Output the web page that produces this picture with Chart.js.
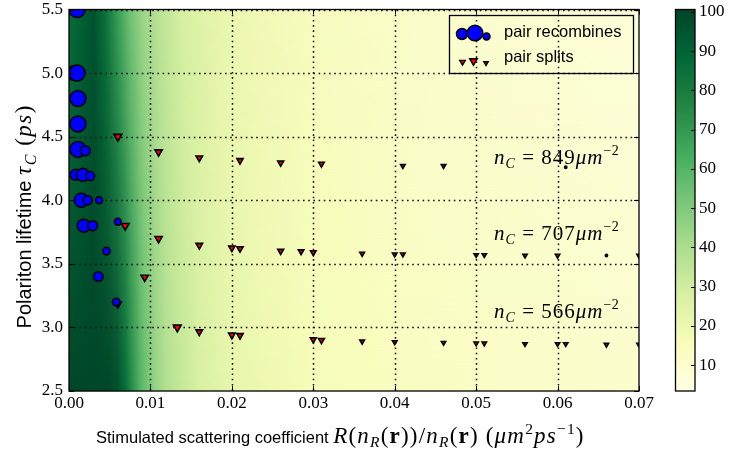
<!DOCTYPE html>
<html>
<head>
<meta charset="utf-8">
<script src="https://cdn.jsdelivr.net/npm/chart.js@4.4.0/dist/chart.umd.min.js"></script>
<style>
  html, body { margin: 0; padding: 0; background: #fff; }
  #wrap { position: relative; width: 730px; height: 451px; }
</style>
</head>
<body>
<div id="wrap"><canvas id="chart" width="730" height="451"></canvas></div>
<script>
// ---- tick labels ----
const xTicks = [0, 0.01, 0.02, 0.03, 0.04, 0.05, 0.06, 0.07];
const yTicks = [2.5, 3.0, 3.5, 4.0, 4.5, 5.0, 5.5];
const cbTicks = [10, 20, 30, 40, 50, 60, 70, 80, 90, 100];
const cbRange = [3.4, 100.6];

// ---- pair recombines (blue circles) ----
const recombX = [0.001, 0.0007, 0.001, 0.0011, 0.0011, 0.0011, 0.002, 0.0008, 0.0017, 0.0026,
                 0.0015, 0.0023, 0.0037, 0.0018, 0.0029, 0.006, 0.0046, 0.0036, 0.0058, 0.061, 0.066];
const recombY = [5.5, 5.0, 5.0, 4.8, 4.6, 4.4, 4.39, 4.2, 4.2, 4.19,
                 4.0, 4.0, 4.0, 3.8, 3.8, 3.83, 3.6, 3.4, 3.2, 4.26, 3.565];
const recombSize = [8, 7.5, 8, 8, 8, 8, 5, 5.5, 6.5, 4.5,
                    7, 4.5, 3.5, 6.5, 5, 3.5, 3.8, 4.8, 3.8, 1.2, 1.2];

// ---- pair splits (red triangles) ----
const splitX = [0.006, 0.011, 0.016, 0.021, 0.026, 0.031, 0.041, 0.046,
                0.0069, 0.011, 0.016, 0.020, 0.021, 0.026, 0.0285, 0.030, 0.036, 0.040, 0.041,
                0.050, 0.051, 0.056, 0.060, 0.070, 0.0093, 0.006,
                0.0133, 0.016, 0.020, 0.021, 0.030, 0.031, 0.036, 0.040, 0.046, 0.050, 0.051,
                0.056, 0.060, 0.061, 0.066, 0.070];
const splitY = [4.5, 4.38, 4.333, 4.313, 4.294, 4.286, 4.27, 4.27,
                3.8, 3.698, 3.646, 3.625, 3.62, 3.60, 3.597, 3.59, 3.58, 3.575, 3.575,
                3.57, 3.57, 3.566, 3.565, 3.565, 3.394, 3.184,
                3.0, 2.966, 2.94, 2.937, 2.905, 2.90, 2.89, 2.885, 2.88, 2.875, 2.875,
                2.87, 2.87, 2.87, 2.865, 2.865];
const splitSize = [4.5, 4.2, 3.8, 3.6, 3.4, 3.2, 2.6, 2.6,
                   4.5, 4.2, 3.8, 3.6, 3.6, 3.4, 3.2, 3.2, 2.7, 2.6, 2.6,
                   2.5, 2.5, 2.5, 2.5, 2.5, 4.2, 4,
                   4.5, 3.8, 3.8, 3.6, 3.4, 3.4, 2.7, 2.6, 2.5, 2.5, 2.5,
                   2.5, 2.5, 2.5, 2.5, 2.5];

// ---- background field (value along x at top and bottom of the axes) ----
const heatTopX = [0, 0.0013, 0.003, 0.0045, 0.006, 0.0075, 0.009, 0.011, 0.014, 0.02, 0.03, 0.045, 0.07];
const heatTop  = [86, 90, 96, 84, 68, 54, 44, 36, 28, 20, 14, 10, 7];
const heatBotX = [0, 0.005, 0.006, 0.007, 0.008, 0.009, 0.0105, 0.012, 0.016, 0.02, 0.03, 0.045, 0.07];
const heatBot  = [100, 100, 96, 85, 70, 58, 46, 38, 28, 22, 16, 13, 10];

// ---- annotations ----
const noteText = ['849', '707', '566'];
const noteX = [0.0522, 0.0522, 0.0522];
const noteY = [4.282, 3.685, 3.075];

const ylgn = ['#ffffe5', '#f7fcb9', '#d9f0a3', '#addd8e', '#78c679', '#41ab5d', '#238443', '#006837', '#004529'];
const SANS = '"Liberation Sans", Arial, sans-serif';
const SERIF = '"Liberation Serif", "Times New Roman", serif';

function hexRgb(h) {
  return [parseInt(h.slice(1, 3), 16), parseInt(h.slice(3, 5), 16), parseInt(h.slice(5, 7), 16)];
}
function cmap(v) {
  let t = (v - cbRange[0]) / (cbRange[1] - cbRange[0]);
  t = Math.max(0, Math.min(1, t)) * (ylgn.length - 1);
  const i = Math.min(Math.floor(t), ylgn.length - 2);
  const f = t - i;
  const a = hexRgb(ylgn[i]), b = hexRgb(ylgn[i + 1]);
  return 'rgb(' + a.map((c, k) => Math.round(c + (b[k] - c) * f)).join(',') + ')';
}

function rowGradient(ctx, area, xScale, xs, vals) {
  const g = ctx.createLinearGradient(area.left, 0, area.right, 0);
  xs.forEach((x, i) => {
    const p = (xScale.getPixelForValue(x) - area.left) / area.width;
    g.addColorStop(Math.max(0, Math.min(1, p)), cmap(vals[i]));
  });
  return g;
}

// mixed-font text: parts = [[text, font, dy, tracking], ...]
function richText(ctx, parts, x, y, align) {
  ctx.textAlign = 'left';
  ctx.textBaseline = 'alphabetic';
  const pieces = [];
  let total = 0;
  parts.forEach(p => {
    ctx.font = p[1];
    const tr = p[3] || 0;
    const chunks = tr ? p[0].split('') : [p[0]];
    chunks.forEach(c => {
      const w = ctx.measureText(c).width + tr;
      pieces.push([c, p[1], p[2] || 0, w]);
      total += w;
    });
  });
  let cx = align === 'center' ? x - total / 2 : x;
  pieces.forEach(q => { ctx.font = q[1]; ctx.fillText(q[0], cx, y + q[2]); cx += q[3]; });
}

const heatPlugin = {
  id: 'heat',
  beforeDatasetsDraw(chart) {
    const { ctx, chartArea: a, scales } = chart;
    const w = Math.round(a.width), h = Math.round(a.height);
    // top row everywhere, bottom row faded in towards the bottom
    ctx.save();
    ctx.fillStyle = rowGradient(ctx, a, scales.x, heatTopX, heatTop);
    ctx.fillRect(a.left, a.top, a.width, a.height);
    const off = document.createElement('canvas');
    off.width = w; off.height = h;
    const o = off.getContext('2d');
    o.translate(-a.left, -a.top);
    o.fillStyle = rowGradient(o, a, scales.x, heatBotX, heatBot);
    o.fillRect(a.left, a.top, a.width, a.height);
    o.globalCompositeOperation = 'destination-in';
    const vg = o.createLinearGradient(0, a.top, 0, a.bottom);
    vg.addColorStop(0, 'rgba(0,0,0,0)');
    vg.addColorStop(1, 'rgba(0,0,0,1)');
    o.fillStyle = vg;
    o.fillRect(a.left, a.top, a.width, a.height);
    ctx.drawImage(off, a.left, a.top);

    // dotted grid
    ctx.strokeStyle = '#111';
    ctx.lineWidth = 1.5;
    ctx.setLineDash([1.6, 3.6]);
    xTicks.forEach(v => {
      const px = Math.round(scales.x.getPixelForValue(v)) + 0.5;
      if (px < a.left + 1 || px > a.right - 1) return;
      ctx.beginPath(); ctx.moveTo(px, a.top); ctx.lineTo(px, a.bottom); ctx.stroke();
    });
    yTicks.forEach(v => {
      const py = Math.round(scales.y.getPixelForValue(v)) + 0.5;
      if (py < a.top + 1 || py > a.bottom - 1) return;
      ctx.beginPath(); ctx.moveTo(a.left, py); ctx.lineTo(a.right, py); ctx.stroke();
    });
    ctx.restore();
  },
  afterDatasetsDraw(chart) {
    const { ctx, chartArea: a, scales } = chart;
    ctx.save();
    // frame
    ctx.strokeStyle = '#000';
    ctx.lineWidth = 1.3;
    ctx.strokeRect(a.left, a.top, a.width, a.height);
    // inward ticks on all sides
    ctx.lineWidth = 1;
    const tl = 5;
    xTicks.forEach(v => {
      const px = Math.round(scales.x.getPixelForValue(v)) + 0.5;
      ctx.beginPath();
      ctx.moveTo(px, a.bottom); ctx.lineTo(px, a.bottom - tl);
      ctx.moveTo(px, a.top); ctx.lineTo(px, a.top + tl);
      ctx.stroke();
    });
    yTicks.forEach(v => {
      const py = Math.round(scales.y.getPixelForValue(v)) + 0.5;
      ctx.beginPath();
      ctx.moveTo(a.left, py); ctx.lineTo(a.left + tl, py);
      ctx.moveTo(a.right, py); ctx.lineTo(a.right - tl, py);
      ctx.stroke();
    });

    // annotations
    ctx.fillStyle = '#000';
    const it = 'italic 21px ' + SERIF, rm = '21px ' + SERIF;
    const sub = 'italic 14px ' + SERIF, sup = '14px ' + SERIF;
    noteText.forEach((t, i) => {
      const px = scales.x.getPixelForValue(noteX[i]);
      const py = scales.y.getPixelForValue(noteY[i]);
      richText(ctx, [['n', it, 0, 1], ['C', sub, 4, 1], [' = ' + t, rm, 0, 1], ['\u03bcm', it, 0, 1], ['\u22122', sup, -9, 0.5]], px, py, 'left');
    });

    // legend
    const lx = 449.5, ly = 15.5, lw = 184, lh = 58;
    ctx.lineWidth = 1.3;
    ctx.strokeStyle = '#000';
    ctx.strokeRect(lx, ly, lw, lh);
    const dot = (x, y, r) => {
      ctx.beginPath(); ctx.arc(x, y, r, 0, Math.PI * 2);
      ctx.fillStyle = '#0000ff'; ctx.fill();
      ctx.lineWidth = 1.5; ctx.strokeStyle = '#000'; ctx.stroke();
    };
    dot(462, 34, 5.5); dot(475, 33, 7.8); dot(486.5, 36.5, 3.5);
    const tri = (x, y, r) => {
      ctx.beginPath();
      ctx.moveTo(x, y + r);
      ctx.lineTo(x - r * 0.866, y - r * 0.5);
      ctx.lineTo(x + r * 0.866, y - r * 0.5);
      ctx.closePath();
      ctx.fillStyle = '#ff0000'; ctx.fill();
      ctx.lineWidth = 1.4; ctx.strokeStyle = '#000'; ctx.stroke();
    };
    tri(462.5, 62, 3.2); tri(473.5, 61, 4.4); tri(486, 63, 2.5);
    ctx.fillStyle = '#000';
    ctx.font = '16.5px ' + SANS;
    ctx.textAlign = 'left';
    ctx.textBaseline = 'middle';
    ctx.fillText('pair recombines', 504, 32);
    ctx.fillText('pair splits', 504, 57.5);

    // colorbar
    const cb = scales.cb;
    const bx = 675.5, bw = 19.5;
    const g = ctx.createLinearGradient(0, a.bottom, 0, a.top);
    ylgn.forEach((c, i) => g.addColorStop(i / (ylgn.length - 1), c));
    ctx.fillStyle = g;
    ctx.fillRect(bx, a.top, bw, a.height);
    ctx.lineWidth = 1.3;
    ctx.strokeRect(bx, a.top, bw, a.height);
    ctx.lineWidth = 1;
    cbTicks.forEach(v => {
      const py = Math.round(cb.getPixelForValue(v)) + 0.5;
      ctx.beginPath(); ctx.moveTo(bx + bw, py); ctx.lineTo(bx + bw - 4, py); ctx.stroke();
    });

    // x axis title
    ctx.fillStyle = '#000';
    const s17 = '16.5px ' + SANS;
    const mi = 'italic 23px ' + SERIF, mr = '23px ' + SERIF, mb = 'bold 23px ' + SERIF;
    const ms = 'italic 15.5px ' + SERIF, mp = '15.5px ' + SERIF;
    const T = 1.2;
    richText(ctx, [
      ['Stimulated scattering coefficient ', s17],
      ['R', mi, 0, T], ['(', mr, 0, T], ['n', mi, 0, T], ['R', ms, 4, T], ['(', mr, 0, T], ['r', mb, 0, T], ['))/', mr, 0, T],
      ['n', mi, 0, T], ['R', ms, 4, T], ['(', mr, 0, T], ['r', mb, 0, T], [')', mr, 0, T],
      [' (', mr, 0, T], ['\u03bcm', mi, 0, T], ['2', mp, -9, T], ['ps', mi, 0, T], ['\u22121', mp, -9, T], [')', mr]
    ], 96, 443, 'left');

    // y axis title
    const s20 = '20px ' + SANS;
    const yi = 'italic 23px ' + SERIF, yr = '23px ' + SERIF, ys = 'italic 16px ' + SERIF;
    ctx.translate(31, 217);
    ctx.rotate(-Math.PI / 2);
    richText(ctx, [
      ['Polariton lifetime ', s20], ['\u03c4', yi, 0, 1.5], ['C', ys, 5, 1.5], [' (', yr, 0, 1.5], ['ps', yi, 0, 1.5], [')', yr]
    ], 0, 0, 'center');
    ctx.restore();
  }
};

const tickFont = { family: SERIF, size: 17 };
// fixed axis sizes; drop the label overhang padding Chart.js adds
const noPad = s => { s.paddingTop = 0; s.paddingBottom = 0; s.paddingLeft = 0; s.paddingRight = 0; };

new Chart(document.getElementById('chart'), {
  type: 'scatter',
  data: {
    datasets: [
      {
        label: 'pair recombines',
        data: recombX.map((x, i) => ({ x: x, y: recombY[i] })),
        pointRadius: recombSize,
        pointBackgroundColor: '#0000ff',
        pointBorderColor: '#000',
        pointBorderWidth: 1.5,
        clip: 0
      },
      {
        label: 'pair splits',
        data: splitX.map((x, i) => ({ x: x, y: splitY[i] })),
        pointStyle: 'triangle',
        rotation: 180,
        pointRadius: splitSize,
        pointBackgroundColor: '#ff0000',
        pointBorderColor: '#000',
        pointBorderWidth: 1.6,
        clip: 0
      }
    ]
  },
  options: {
    responsive: false,
    animation: false,
    events: [],
    layout: { padding: { top: 7, left: 0, right: 0, bottom: 0 } },
    plugins: { legend: { display: false }, tooltip: { enabled: false } },
    scales: {
      x: {
        type: 'linear', position: 'bottom', min: 0, max: 0.07,
        afterBuildTicks: s => { s.ticks = xTicks.map(v => ({ value: v })); },
        afterFit: s => { s.height = 60; noPad(s); },
        ticks: { callback: v => v.toFixed(2), font: tickFont, color: '#000', padding: 2, maxRotation: 0, autoSkip: false },
        grid: { display: false, drawTicks: false },
        border: { display: false }
      },
      y: {
        type: 'linear', position: 'left', min: 2.5, max: 5.5,
        afterBuildTicks: s => { s.ticks = yTicks.map(v => ({ value: v })); },
        afterFit: s => { s.width = 69; noPad(s); },
        ticks: { callback: v => v.toFixed(1), font: tickFont, color: '#000', padding: 6, autoSkip: false },
        grid: { display: false, drawTicks: false },
        border: { display: false }
      },
      cb: {
        type: 'linear', position: 'right', min: cbRange[0], max: cbRange[1],
        afterBuildTicks: s => { s.ticks = cbTicks.map(v => ({ value: v })); },
        afterFit: s => { s.width = 91; noPad(s); },
        ticks: { font: tickFont, color: '#000', padding: 60, autoSkip: false },
        grid: { display: false, drawTicks: false },
        border: { display: false }
      }
    }
  },
  plugins: [heatPlugin]
});
</script>
</body>
</html>
